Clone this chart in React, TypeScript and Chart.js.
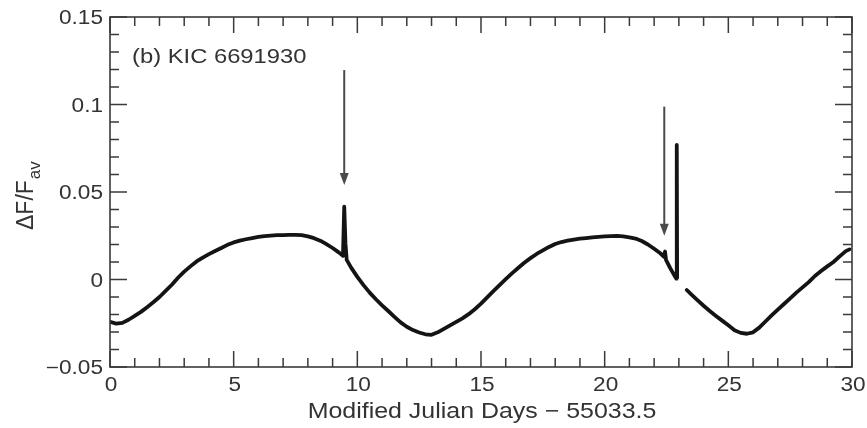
import React, { useEffect, useRef } from "react";
import { Chart, registerables } from "chart.js";

Chart.register(...registerables);

// ---- data ----
const days: number[] = [
  0, 0.25, 0.5, 0.75, 1, 1.25, 1.5, 1.75, 2, 2.25, 2.5, 2.75, 3, 3.25, 3.5, 3.75,
  4, 4.25, 4.5, 4.75, 5, 5.25, 5.5, 5.75, 6, 6.25, 6.5, 6.75, 7, 7.25, 7.5, 7.75,
  8, 8.25, 8.5, 8.75, 9, 9.25, 9.42, 9.47, 9.52, 9.57, 9.75,
  10, 10.25, 10.5, 10.75, 11, 11.25, 11.5, 11.75, 12, 12.25, 12.5, 12.75,
  13, 13.25, 13.5, 13.75, 14, 14.25, 14.5, 14.75, 15, 15.25, 15.5, 15.75,
  16, 16.25, 16.5, 16.75, 17, 17.25, 17.5, 17.75, 18, 18.25, 18.5, 18.75,
  19, 19.25, 19.5, 19.75, 20, 20.25, 20.5, 20.75, 21, 21.25, 21.5, 21.75,
  22, 22.25, 22.4, 22.44, 22.48, 22.65, 22.85, 22.9, 22.915, 22.93, 23.1,
  23.32, 23.5, 23.75, 24, 24.25, 24.5, 24.75, 25, 25.25, 25.5, 25.75,
  26, 26.25, 26.5, 26.75, 27, 27.25, 27.5, 27.75, 28, 28.25, 28.5, 28.75,
  29, 29.25, 29.5, 29.75, 29.9,
];

const flux: (number | null)[] = [
  -0.0242, -0.0252, -0.0248, -0.023, -0.0208, -0.0185, -0.0158, -0.013, -0.01, -0.0065, -0.003, 0.001, 0.0045, 0.0075, 0.0103, 0.0125,
  0.0145, 0.0163, 0.018, 0.0198, 0.0212, 0.0222, 0.023, 0.0237, 0.0243, 0.0248, 0.0251, 0.0253, 0.0254, 0.0255, 0.0255, 0.0253,
  0.0246, 0.0236, 0.0222, 0.0202, 0.018, 0.0155, 0.0135, 0.0416, 0.0205, 0.0112, 0.0068,
  0.0015, -0.0032, -0.0075, -0.0113, -0.0148, -0.018, -0.0213, -0.0245, -0.027, -0.0289, -0.0303, -0.0313,
  -0.0316, -0.0302, -0.0282, -0.0262, -0.0242, -0.0222, -0.0198, -0.0170, -0.0138, -0.0102, -0.0066, -0.0032,
  0.0002, 0.0035, 0.0066, 0.0096, 0.0122, 0.0146, 0.0166, 0.0186, 0.0203, 0.0214, 0.0222, 0.0228,
  0.0233, 0.0237, 0.0241, 0.0244, 0.0246, 0.0248, 0.0249, 0.0246, 0.0241, 0.0234, 0.022, 0.02,
  0.0176, 0.015, 0.013, 0.016, 0.0112, 0.0065, 0.0016, 0.0005, 0.0769, 0.001, null,
  -0.006, -0.0085, -0.0118, -0.015, -0.018, -0.0208, -0.0235, -0.0262, -0.029, -0.0305, -0.031,
  -0.0302, -0.0275, -0.024, -0.0205, -0.0172, -0.014, -0.0108, -0.0075, -0.0045, -0.0015, 0.002, 0.0048,
  0.0075, 0.01, 0.0132, 0.0162, 0.0172,
];

const xTicks: number[] = [0, 5, 10, 15, 20, 25, 30];
const xTickLabels: string[] = ["0", "5", "10", "15", "20", "25", "30"];
const yTicks: number[] = [-0.05, 0, 0.05, 0.1, 0.15];
const yTickLabels: string[] = ["\u22120.05", "0", "0.05", "0.1", "0.15"];

const arrowDays: number[] = [9.47, 22.41];
const arrowFrom: number[] = [0.1197, 0.0988];
const arrowTo: number[] = [0.054, 0.025];

const panelLabel = "(b) KIC 6691930";
const xTitle = "Modified Julian Days \u2212 55033.5";
const yTitleMain = "\u0394F/F";
const yTitleSub = "av";

const FONT = "'Liberation Sans', Arial, Helvetica, sans-serif";
const TEXT = "#333333";
const AXIS = "#3a3a3a";
const SX = 1.16;

const decorPlugin = {
  id: "decor",
  afterDraw(chart: any) {
    const ctx: CanvasRenderingContext2D = chart.ctx;
    const ca = chart.chartArea;
    const xs = chart.scales.x;
    const ys = chart.scales.y;

    const text = (s: string, x: number, y: number, align: CanvasTextAlign, size: number) => {
      ctx.save();
      ctx.translate(x, y);
      ctx.scale(SX, 1);
      ctx.font = `${size}px ${FONT}`;
      ctx.fillStyle = TEXT;
      ctx.textAlign = align;
      ctx.textBaseline = "alphabetic";
      ctx.fillText(s, 0, 0);
      ctx.restore();
    };

    // arrows
    ctx.save();
    ctx.strokeStyle = "#4a4a4a";
    ctx.fillStyle = "#4a4a4a";
    ctx.lineWidth = 2;
    for (let i = 0; i < arrowDays.length; i++) {
      const x = xs.getPixelForValue(arrowDays[i]);
      const y0 = ys.getPixelForValue(arrowFrom[i]);
      const y1 = ys.getPixelForValue(arrowTo[i]);
      const head = 12;
      ctx.beginPath();
      ctx.moveTo(x, y0);
      ctx.lineTo(x, y1 - head + 2);
      ctx.stroke();
      ctx.beginPath();
      ctx.moveTo(x, y1);
      ctx.lineTo(x - 4.5, y1 - head);
      ctx.lineTo(x + 4.5, y1 - head);
      ctx.closePath();
      ctx.fill();
    }
    ctx.restore();

    // frame and inward ticks
    ctx.save();
    ctx.strokeStyle = AXIS;
    ctx.lineWidth = 1.6;
    ctx.strokeRect(ca.left, ca.top, ca.right - ca.left, ca.bottom - ca.top);
    ctx.lineWidth = 1.5;
    ctx.beginPath();
    for (let d = 0; d <= 30; d++) {
      const px = xs.getPixelForValue(d);
      const len = d % 5 === 0 ? 16 : 9;
      ctx.moveTo(px, ca.bottom);
      ctx.lineTo(px, ca.bottom - len);
      ctx.moveTo(px, ca.top);
      ctx.lineTo(px, ca.top + len);
    }
    for (let k = -5; k <= 15; k++) {
      const py = ys.getPixelForValue(k / 100);
      const len = k % 5 === 0 ? 17 : 9;
      ctx.moveTo(ca.left, py);
      ctx.lineTo(ca.left + len, py);
      ctx.moveTo(ca.right, py);
      ctx.lineTo(ca.right - len, py);
    }
    ctx.stroke();
    ctx.restore();

    // tick labels
    xTicks.forEach((v, i) => {
      text(xTickLabels[i], xs.getPixelForValue(v) + 1, ca.bottom + 24, "center", 19.5);
    });
    yTicks.forEach((v, i) => {
      text(yTickLabels[i], ca.left - 7, ys.getPixelForValue(v) + 7, "right", 19.5);
    });

    // titles
    text(xTitle, (ca.left + ca.right) / 2 + 1, 418, "center", 21.5);
    text(panelLabel, 132, 63, "left", 20.5);

    // y title, rotated
    ctx.save();
    ctx.translate(33, 230);
    ctx.rotate(-Math.PI / 2);
    ctx.fillStyle = TEXT;
    ctx.textAlign = "left";
    ctx.textBaseline = "alphabetic";
    ctx.font = `23px ${FONT}`;
    ctx.fillText(yTitleMain, 0, 0);
    const w = ctx.measureText(yTitleMain).width;
    ctx.font = `17px ${FONT}`;
    ctx.fillText(yTitleSub, w + 1, 7);
    ctx.restore();
  },
};

export default function App() {
  const ref = useRef<HTMLCanvasElement | null>(null);

  useEffect(() => {
    if (!ref.current) return;
    const points = days.map((d, i) => ({ x: d, y: flux[i] }));
    const chart = new Chart(ref.current, {
      type: "line",
      data: {
        datasets: [
          {
            data: points as any,
            borderColor: "#141414",
            borderWidth: 3.8,
            pointRadius: 0,
            tension: 0,
            spanGaps: false,
            borderJoinStyle: "round",
            borderCapStyle: "round",
          },
        ],
      },
      options: {
        animation: false,
        responsive: false,
        devicePixelRatio: 1,
        layout: { padding: { top: 17, right: 15, left: 0, bottom: 0 } },
        plugins: { legend: { display: false }, tooltip: { enabled: false } },
        scales: {
          x: {
            type: "linear",
            min: 0,
            max: 30,
            grid: { display: false, drawTicks: false },
            border: { display: false },
            ticks: { display: false, stepSize: 5 },
            afterFit: (s: any) => {
              s.height = 61;
            },
          },
          y: {
            type: "linear",
            min: -0.05,
            max: 0.15,
            grid: { display: false, drawTicks: false },
            border: { display: false },
            ticks: { display: false, stepSize: 0.05 },
            afterFit: (s: any) => {
              s.width = 110;
            },
          },
        },
      },
      plugins: [decorPlugin],
    });
    return () => chart.destroy();
  }, []);

  return (
    <div style={{ position: "fixed", left: 0, top: 0, width: 867, height: 428, background: "#fff" }}>
      <canvas ref={ref} width={867} height={428} style={{ display: "block" }} />
    </div>
  );
}
